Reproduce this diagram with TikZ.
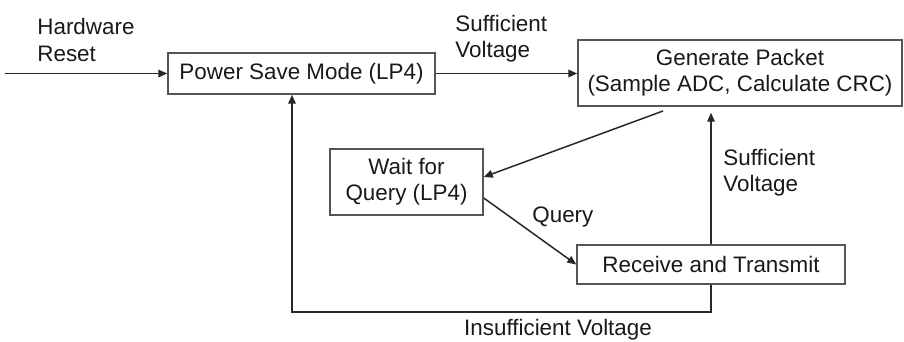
\documentclass[tikz,border=0pt]{standalone}
\usepackage{fontspec}
\setmainfont{Liberation Sans}
\usetikzlibrary{arrows.meta,calc}
\definecolor{boxline}{RGB}{85,85,85}
\definecolor{conline}{RGB}{40,40,40}
\definecolor{txt}{RGB}{25,25,25}
\tikzset{
  x=0.5pt, y=-0.5pt,
  stbox/.style={draw=boxline, line width=0.75pt, rectangle, inner sep=0pt, align=center,
    text=txt, font=\fontsize{11.2}{13.2}\selectfont},
  conn/.style={draw=conline, line width=0.75pt, -{Triangle[length=4.5pt,width=3.8pt]}},
  lbl/.style={text=txt, font=\fontsize{11.2}{13.2}\selectfont, align=left, inner sep=0pt},
}
\begin{document}
\begin{tikzpicture}
\useasboundingbox (0,0) rectangle (904,342);
% boxes
\node[stbox, minimum width=133.5pt, minimum height=20.5pt] (psm) at (301.5,73.5) {Power Save Mode (LP4)};
\node[stbox, minimum width=162pt, minimum height=33pt] (gen) at (740,73) {Generate Packet\\(Sample ADC, Calculate CRC)};
\node[stbox, minimum width=76.5pt, minimum height=33pt] (wait) at (406.5,182) {Wait for\\Query (LP4)};
\node[stbox, minimum width=134pt, minimum height=19.5pt] (recv) at (711,264.5) {Receive and Transmit};
% labels
\node[lbl, anchor=west] (lhw) at (37,40) {Hardware\\Reset};
\node[lbl, anchor=west] (lsv1) at (455,39) {Sufficient\\Voltage};
\node[lbl, anchor=west] (lsv2) at (723,173) {Sufficient\\Voltage};
\node[lbl, anchor=west] (lq) at (532,217) {Query};
\node[lbl] (lisv) at (558,330) {Insufficient Voltage};
% connectors
\coordinate (hwstart) at (5,73.5);
\draw[conn] (hwstart) -- (psm.west);
\draw[conn] (psm.east) -- (psm.east -| gen.west);
\coordinate (genout) at (663,111);
\draw[conn] (genout) -- ([yshift=2.5pt]wait.east);
\draw[conn] ([yshift=-8pt]wait.east) -- (recv.west);
\draw[conn, shorten >=3pt] (recv.north) -- (recv.north |- gen.south);
\coordinate (loopc) at (292,312);
\draw[conn] (recv.south) |- (loopc) -- (loopc |- psm.south);
\end{tikzpicture}
\end{document}
